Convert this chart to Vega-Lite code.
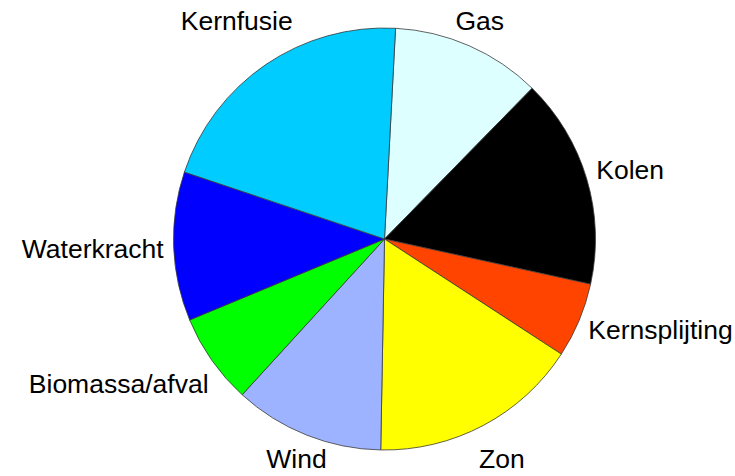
{
  "$schema": "https://vega.github.io/schema/vega-lite/v6.json",
  "width": 701,
  "height": 474,
  "autosize": "none",
  "padding": {"left": 34, "top": 2, "right": 0, "bottom": 0},
  "background": "white",
  "view": {"stroke": null},
  "data": {
    "values": [
      {"rank": 1, "label": "Gas", "value": 11.5},
      {"rank": 2, "label": "Kolen", "value": 16.1},
      {"rank": 3, "label": "Kernsplijting", "value": 5.75},
      {"rank": 4, "label": "Zon", "value": 16.1},
      {"rank": 5, "label": "Wind", "value": 11.5},
      {"rank": 6, "label": "Biomassa/afval", "value": 6.95},
      {"rank": 7, "label": "Waterkracht", "value": 11.4},
      {"rank": 8, "label": "Kernfusie", "value": 20.7}
    ]
  },
  "layer": [
    {
      "mark": {"type": "arc", "outerRadius": 211, "stroke": "#3a3a3a", "strokeWidth": 0.8},
      "encoding": {
        "theta": {"field": "value", "type": "quantitative", "stack": true, "scale": {"range": [0.0524, 6.3356]}},
        "order": {"field": "rank", "type": "quantitative"},
        "color": {
          "field": "label",
          "type": "nominal",
          "legend": null,
          "scale": {
            "domain": ["Gas", "Kolen", "Kernsplijting", "Zon", "Wind", "Biomassa/afval", "Waterkracht", "Kernfusie"],
            "range": ["#DDFFFF", "#000000", "#FF4400", "#FFFF00", "#9EB3FF", "#00FF00", "#0000FF", "#00CCFF"]
          }
        }
      }
    },
    {
      "mark": {
        "type": "text",
        "font": "Liberation Sans",
        "fontSize": 26.5,
        "color": "#000000",
        "baseline": "middle",
        "align": {"expr": "((datum.value_start + datum.value_end) / 200 > 0.1 && (datum.value_start + datum.value_end) / 200 < 0.4) ? 'left' : (((datum.value_start + datum.value_end) / 200 > 0.6 && (datum.value_start + datum.value_end) / 200 < 0.85) ? 'right' : 'center')"},
        "dy": {"expr": "(datum.value_start + datum.value_end) / 200 > 0.6 && (datum.value_start + datum.value_end) / 200 < 0.7 ? 22 : ((datum.value_start + datum.value_end) / 200 > 0.25 && (datum.value_start + datum.value_end) / 200 < 0.4 ? 7 : ((datum.value_start + datum.value_end) / 200 > 0.1 && (datum.value_start + datum.value_end) / 200 < 0.25 ? -5 : ((datum.value_start + datum.value_end) / 200 > 0.7 && (datum.value_start + datum.value_end) / 200 < 0.85 ? 3 : 0)))"},
        "radius": {"expr": "(((datum.value_start + datum.value_end) / 200 > 0.1 && (datum.value_start + datum.value_end) / 200 < 0.4) || ((datum.value_start + datum.value_end) / 200 > 0.6 && (datum.value_start + datum.value_end) / 200 < 0.85)) ? ((datum.value_start + datum.value_end) / 200 > 0.6 && (datum.value_start + datum.value_end) / 200 < 0.7 ? 215 : 221) : ((cos(0.0524 + PI * (datum.value_start + datum.value_end) / 100) > 0 ? 217 : 221) / abs(cos(0.0524 + PI * (datum.value_start + datum.value_end) / 100)))"}
      },
      "encoding": {
        "theta": {"field": "value", "type": "quantitative", "stack": true},
        "order": {"field": "rank", "type": "quantitative"},
        "text": {"field": "label", "type": "nominal"}
      }
    }
  ]
}
